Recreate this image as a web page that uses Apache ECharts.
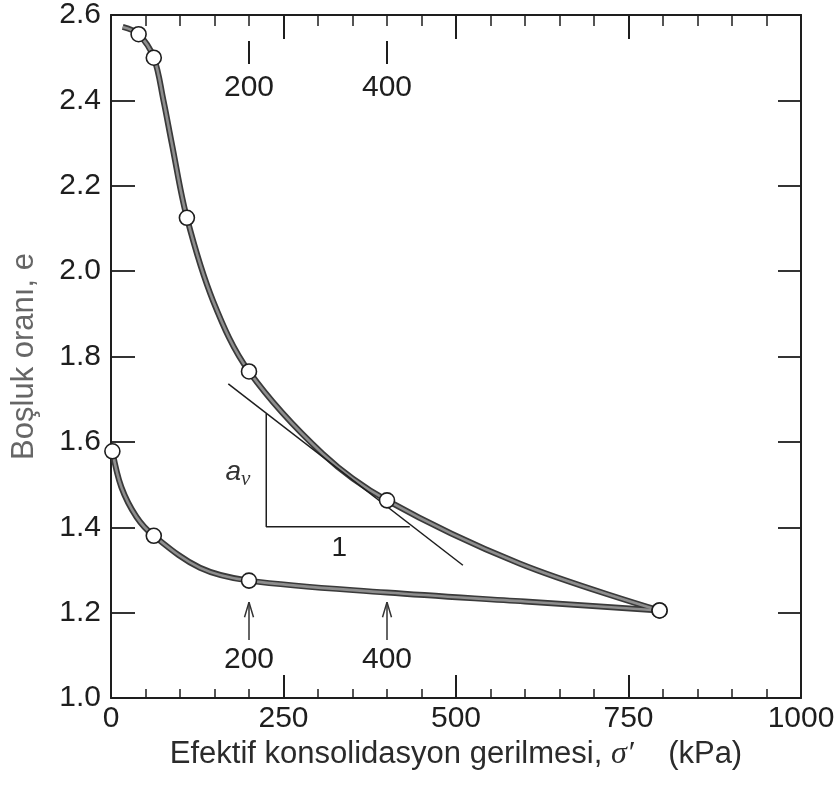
<!DOCTYPE html>
<html><head><meta charset="utf-8">
<script src="https://cdn.jsdelivr.net/npm/echarts@6/dist/echarts.min.js"></script>
<style>html,body{margin:0;padding:0;background:#fff}#c{width:838px;height:791px}</style>
</head><body><div id="c"></div>
<script>
// Axis tick values
const xTicks = [0, 250, 500, 750, 1000];
const yTicks = [1.0, 1.2, 1.4, 1.6, 1.8, 2.0, 2.2, 2.4, 2.6];
// Loading branch: measured points
const loadStress = [40, 62, 110, 200, 400, 795];
const loadVoid = [2.555, 2.50, 2.125, 1.765, 1.463, 1.205];
// Loading branch: drawn curve
const loadCurveStress = [17, 40, 62, 76, 88, 110, 148, 200, 307, 400, 592, 795];
const loadCurveVoid = [2.572, 2.555, 2.50, 2.40, 2.30, 2.125, 1.93, 1.765, 1.572, 1.463, 1.315, 1.205];
// Unloading branch: measured points
const unloadStress = [795, 200, 62, 2];
const unloadVoid = [1.205, 1.275, 1.38, 1.578];
// Unloading branch: drawn curve
const unloadCurveStress = [2, 15, 37, 62, 129, 200, 400, 600, 795];
const unloadCurveVoid = [1.578, 1.494, 1.424, 1.38, 1.305, 1.275, 1.247, 1.226, 1.205];
// Tangent line and slope triangle
const tangentStress = [170, 510];
const tangentVoid = [1.736, 1.311];
const triStress = [225, 225, 433];
const triVoid = [1.666, 1.401, 1.401];
// Annotated stresses
const markStress = [200, 400];
const markLabels = ['200', '400'];

const zip = (a, b) => a.map((v, i) => [v, b[i]]);
const FONT = 'Liberation Sans, Arial, Helvetica, sans-serif';
const INK = '#1e1e1e';

const axisCommon = {
  type: 'value', min: xTicks[0], max: xTicks[xTicks.length - 1], interval: xTicks[1] - xTicks[0],
  axisLine: { show: true, onZero: false, lineStyle: { color: INK, width: 2 } },
  splitLine: { show: false },
  minorTick: { show: true, splitNumber: 5, length: 9, lineStyle: { color: INK, width: 1.5 } },
  axisTick: { show: true, inside: true, length: 23, lineStyle: { color: INK, width: 2 } }
};
const yCommon = {
  type: 'value', min: yTicks[0], max: yTicks[yTicks.length - 1], interval: 0.2,
  axisLine: { show: true, onZero: false, lineStyle: { color: INK, width: 2 } },
  splitLine: { show: false },
  axisTick: { show: true, inside: true, length: 24, lineStyle: { color: INK, width: 1.8 } }
};

const series = [];
function curve(data) {
  series.push({ type: 'line', data, smooth: 0.35, symbol: 'none', z: 2,
    lineStyle: { color: '#3a3a3a', width: 6 }, silent: true });
  series.push({ type: 'line', data, smooth: 0.35, symbol: 'none', z: 3,
    lineStyle: { color: '#8e8e8e', width: 2.6 }, silent: true });
}
curve(zip(loadCurveStress, loadCurveVoid));
curve(zip(unloadCurveStress, unloadCurveVoid));
series.push({ type: 'line', data: zip(tangentStress, tangentVoid), symbol: 'none', z: 4,
  lineStyle: { color: INK, width: 1.5 } });
series.push({ type: 'line', data: zip(triStress, triVoid), symbol: 'none', z: 4,
  lineStyle: { color: INK, width: 1.5 } });
// markers
series.push({ type: 'scatter', data: zip(loadStress, loadVoid).concat(zip(unloadStress, unloadVoid)),
  symbol: 'circle', symbolSize: 15, z: 6,
  itemStyle: { color: '#fff', borderColor: INK, borderWidth: 1.6, opacity: 1 } });
// top ticks and bottom arrows
markStress.forEach(s => {
  series.push({ type: 'line', data: [[s, 2.539], [s, 2.485]], symbol: 'none', z: 4,
    lineStyle: { color: INK, width: 2 } });
  series.push({ type: 'line', data: [[s, 1.136], [s, 1.2246]], symbol: 'none', z: 4,
    lineStyle: { color: '#333', width: 1.5 } });
  series.push({ type: 'line', data: [[s - 6.5, 1.189], [s, 1.2246], [s + 6.5, 1.189]], symbol: 'none', z: 4,
    lineStyle: { color: '#333', width: 1.5 } });
});
// texts
const textLabel = (pts, extra) => ({
  type: 'scatter', symbol: 'circle', symbolSize: 1, itemStyle: { color: 'rgba(0,0,0,0)', opacity: 1 }, z: 7,
  data: pts,
  label: Object.assign({ show: true, position: 'inside', formatter: p => p.name,
    fontFamily: FONT, fontSize: 30, color: INK, opacity: 1 }, extra || {})
});
series.push(textLabel(markStress.map((s, i) => ({ value: [s, 2.429], name: markLabels[i] }))));
series.push(textLabel(markStress.map((s, i) => ({ value: [s, 1.089], name: markLabels[i] }))));
series.push(textLabel([{ value: [331, 1.351], name: '1' }], { fontSize: 28 }));
series.push(textLabel([{ value: [184, 1.529], name: 'av' }], {
  formatter: '{a|a}{v|v}',
  rich: {
    a: { fontFamily: FONT, fontStyle: 'italic', fontSize: 28, color: '#333' },
    v: { fontFamily: 'Liberation Serif, serif', fontStyle: 'italic', fontSize: 21, color: '#333', padding: [14, 0, 0, 0] }
  }
}));

const chart = echarts.init(document.getElementById('c'), null, { renderer: 'canvas' });
chart.setOption({
  backgroundColor: '#fff',
  animation: false,
  grid: { left: 111, right: 37, top: 14, bottom: 93 },
  xAxis: [
    Object.assign({}, axisCommon, {
      position: 'bottom',
      name: 'Efektif konsolidasyon gerilmesi, {s|σ′}    (kPa)',
      nameLocation: 'middle', nameGap: 31,
      nameTextStyle: { fontFamily: FONT, fontSize: 31, color: '#2b2b2b',
        rich: { s: { fontFamily: 'Liberation Serif, serif', fontStyle: 'italic', fontSize: 32, color: '#2b2b2b' } } },
      axisLabel: { show: true, margin: 6, fontFamily: FONT, fontSize: 30, color: INK, formatter: v => String(v) }
    }),
    Object.assign({}, axisCommon, {
      position: 'top',
      minorTick: { show: true, splitNumber: 5, length: 11, lineStyle: { color: INK, width: 1.5 } },
      axisTick: { show: true, inside: true, length: 24, lineStyle: { color: INK, width: 2 } },
      axisLabel: { show: false }
    })
  ],
  yAxis: [
    Object.assign({}, yCommon, {
      position: 'left',
      name: 'Boşluk oranı, e', nameLocation: 'middle', nameGap: 71, nameRotate: 90,
      nameTextStyle: { fontFamily: FONT, fontSize: 31, color: '#666' },
      axisLabel: { show: true, margin: 10, fontFamily: FONT, fontSize: 30, color: INK,
        formatter: v => v.toFixed(1) }
    }),
    Object.assign({}, yCommon, {
      position: 'right',
      axisTick: { show: true, inside: true, length: 23, lineStyle: { color: INK, width: 1.8 } },
      axisLabel: { show: false }
    })
  ],
  series
});
</script></body></html>
